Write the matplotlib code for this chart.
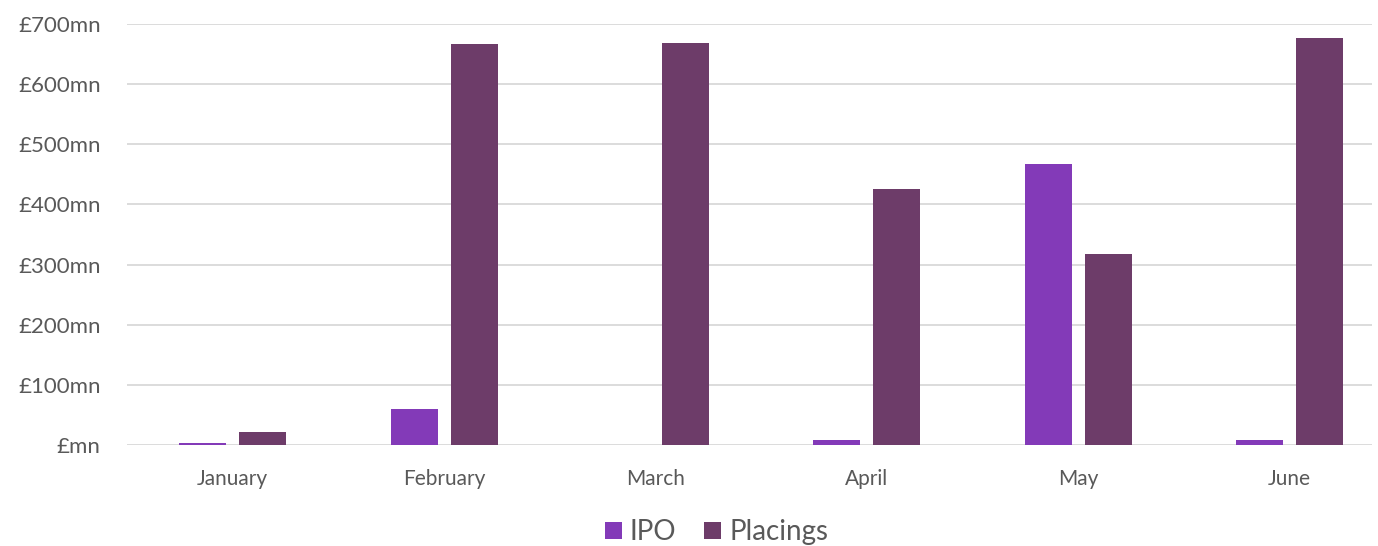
import numpy as np
import matplotlib.pyplot as plt
from matplotlib.ticker import FuncFormatter

# data (GBP millions)
months = ["January", "February", "March", "April", "May", "June"]
ipo = [3, 60, 0, 8, 467, 8]
placings = [22, 667, 668, 426, 318, 677]

IPO_COL = "#833AB8"
PLC_COL = "#6D3C69"
GRID_COL = "#D9D9D9"
TXT_COL = "#595959"

plt.rcParams['font.family'] = ['Lato', 'DejaVu Sans']

fig = plt.figure(figsize=(13.78, 5.46), dpi=100)
ax = fig.add_axes([0.0922, 0.185, 0.9034, 0.771])

x = np.arange(len(months))
w = 0.222
off = 0.142
ax.bar(x - off, ipo, w, color=IPO_COL, label="IPO", zorder=3)
ax.bar(x + off, placings, w, color=PLC_COL, label="Placings", zorder=3)

# plot area in the source runs past the right edge of the image
ax.set_xlim(-0.5, 5.39)
ax.set_ylim(0, 700)
ax.set_yticks(range(0, 701, 100))
ax.yaxis.set_major_formatter(FuncFormatter(
    lambda v, p: "£mn" if v == 0 else "£%dmn" % v))
ax.set_xticks(x)
ax.set_xticklabels(months)

ax.grid(axis='y', color=GRID_COL, linewidth=1.3, zorder=0)
for s in ax.spines.values():
    s.set_visible(False)
ax.tick_params(axis='y', length=0, pad=19, labelsize=16, labelcolor=TXT_COL)
ax.tick_params(axis='x', length=0, pad=17, labelsize=15, labelcolor=TXT_COL)

leg = fig.legend(loc='center', bbox_to_anchor=(0.52, 0.025), ncol=2,
                 frameon=False, fontsize=20, handlelength=0.6,
                 handleheight=0.6, handletextpad=0.3, columnspacing=1.0)
for t in leg.get_texts():
    t.set_color(TXT_COL)

fig.savefig("out.png", dpi=100)
